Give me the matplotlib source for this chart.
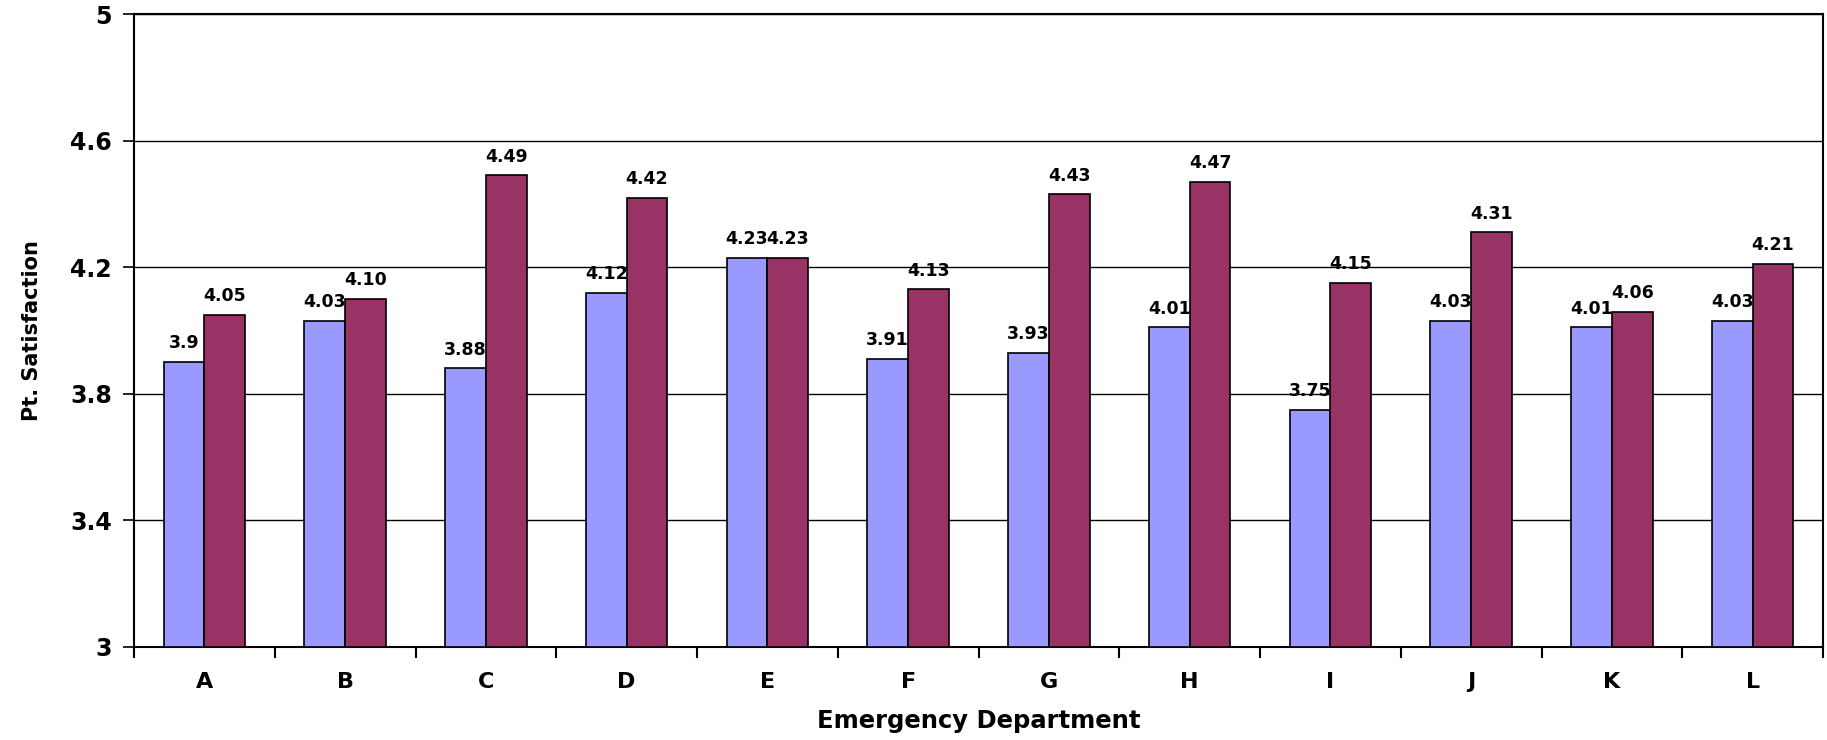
import numpy as np
import matplotlib
matplotlib.use('Agg')
from matplotlib import pyplot as plt

plt.rcParams['font.family'] = ['DejaVu Sans']

# 各急诊科室的满意度得分
departments = ['A', 'B', 'C', 'D', 'E', 'F', 'G', 'H', 'I', 'J', 'K', 'L']
before = [3.90, 4.03, 3.88, 4.12, 4.23, 3.91, 3.93, 4.01, 3.75, 4.03, 4.01, 4.03]
after = [4.05, 4.10, 4.49, 4.42, 4.23, 4.13, 4.43, 4.47, 4.15, 4.31, 4.06, 4.21]
before_labels = ['3.9', '4.03', '3.88', '4.12', '4.23', '3.91', '3.93', '4.01', '3.75', '4.03', '4.01', '4.03']
after_labels = ['4.05', '4.10', '4.49', '4.42', '4.23', '4.13', '4.43', '4.47', '4.15', '4.31', '4.06', '4.21']
y_ticks = [3, 3.4, 3.8, 4.2, 4.6, 5]
y_tick_labels = ['3', '3.4', '3.8', '4.2', '4.6', '5']


def paint():
    fig = plt.figure(figsize=(18.27, 7.40), dpi=100)
    ax = fig.add_axes([134 / 1827, 1 - 647 / 740, (1823 - 134) / 1827, (647 - 14) / 740])

    x = np.arange(len(departments))
    w = 0.29
    ax.bar(x - w / 2, [v - 3 for v in before], w, bottom=3, color='#9999FF',
           edgecolor='black', linewidth=1.2, zorder=3)
    ax.bar(x + w / 2, [v - 3 for v in after], w, bottom=3, color='#993366',
           edgecolor='black', linewidth=1.2, zorder=3)

    # 数值标注
    for i in range(len(departments)):
        ax.annotate(before_labels[i], (x[i] - w / 2, before[i]), xytext=(0, 7),
                    textcoords='offset points', ha='center', va='bottom',
                    fontsize=12.5, fontweight='bold', zorder=4)
        ax.annotate(after_labels[i], (x[i] + w / 2, after[i]), xytext=(0, 7),
                    textcoords='offset points', ha='center', va='bottom',
                    fontsize=12.5, fontweight='bold', zorder=4)

    ax.set_xlim(-0.5, len(departments) - 0.5)
    ax.set_ylim(3, 5)
    ax.set_yticks(y_ticks)
    ax.set_yticklabels(y_tick_labels, fontsize=17, fontweight='bold')
    ax.yaxis.grid(True, color='black', linewidth=1.0, zorder=0)
    ax.set_axisbelow(True)
    ax.tick_params(axis='y', direction='out', length=8, width=1.2, pad=8)

    # x轴刻度放在类别之间
    ax.set_xticks(np.arange(-0.5, len(departments), 1.0))
    ax.set_xticklabels([])
    ax.set_xticks(x, minor=True)
    ax.set_xticklabels(departments, minor=True, fontsize=16, fontweight='bold')
    ax.tick_params(axis='x', which='major', direction='out', length=8, width=1.5)
    ax.tick_params(axis='x', which='minor', length=0, pad=18)

    for s in ax.spines.values():
        s.set_color('black')
        s.set_linewidth(1.5)

    ax.set_xlabel('Emergency Department', fontsize=17.5, fontweight='bold', labelpad=12)
    ax.set_ylabel('Pt. Satisfaction', fontsize=15, fontweight='bold', labelpad=20)

    fig.savefig('out.png', dpi=100)


if __name__ == '__main__':
    paint()
